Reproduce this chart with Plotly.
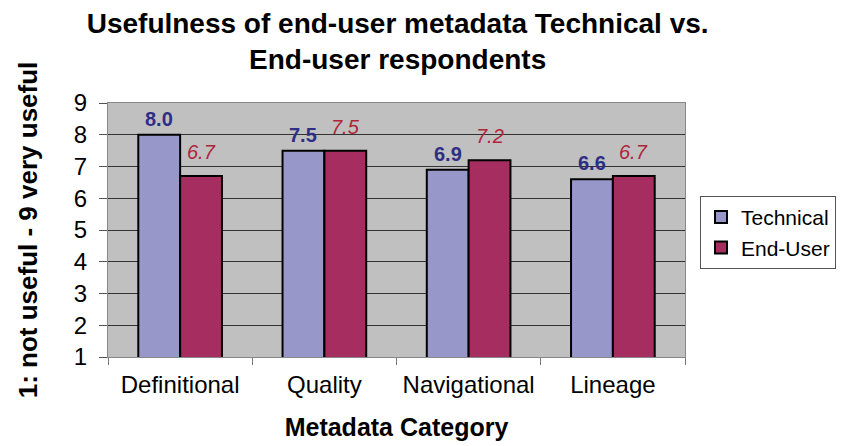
import plotly.graph_objects as go

categories = ["Definitional", "Quality", "Navigational", "Lineage"]
technical = [8.0, 7.5, 6.9, 6.6]
end_user = [6.7, 7.5, 7.2, 6.7]
y_ticks = [1, 2, 3, 4, 5, 6, 7, 8, 9]

tech_color = "#9797CA"
eu_color = "#A62D5F"
FONT = "Arial, Liberation Sans, Helvetica, sans-serif"

fig = go.Figure()
fig.add_trace(go.Bar(name="Technical", x=categories, y=technical,
                     marker=dict(color=tech_color, line=dict(color="black", width=2))))
fig.add_trace(go.Bar(name="End-User", x=categories, y=end_user,
                     marker=dict(color=eu_color, line=dict(color="black", width=2))))

for c, v in zip(categories, technical):
    fig.add_annotation(x=c, y=v, xref="x", yref="y", text=f"<b>{v:.1f}</b>", showarrow=False,
                       xshift=-21, yshift=16, font=dict(family=FONT, size=20, color="#2E2E86"))
for c, v in zip(categories, end_user):
    fig.add_annotation(x=c, y=v, xref="x", yref="y", text=f"<i>{v:.1f}</i>", showarrow=False,
                       xshift=21, yshift=24, font=dict(family=FONT, size=20, color="#B0243A"))

fig.update_layout(
    width=859, height=446,
    margin=dict(l=100, r=182, t=95, b=97, autoexpand=False),
    paper_bgcolor="white", plot_bgcolor="#C0C0C0",
    barmode="group", bargap=0.42, bargroupgap=0,
    font=dict(family=FONT, size=22, color="black"),
    title=dict(text="<b>Usefulness of end-user metadata Technical vs.<br>End-user respondents</b>",
               x=0.502, xanchor="center", xref="paper", yref="container", y=0.944, yanchor="middle",
               automargin=False, font=dict(size=28, color="black")),
    legend=dict(x=1.026, xanchor="left", y=0.634, yanchor="top",
                bordercolor="#555555", borderwidth=1, bgcolor="white",
                font=dict(size=21), tracegroupgap=0),
    xaxis=dict(title=dict(text="<b>Metadata Category</b>", font=dict(size=25), standoff=21),
               automargin=False,
               ticks="outside", tickson="boundaries", ticklen=7, tickcolor="#777777",
               ticklabelstandoff=6,
               showline=True, linecolor="#888888", linewidth=1, mirror=True,
               tickfont=dict(size=24)),
    yaxis=dict(title=dict(text="<b>1: not useful - 9 very useful</b>", font=dict(size=26), standoff=28),
               automargin=False,
               range=[1, 9], tickvals=y_ticks, ticks="outside", ticklen=8, tickcolor="#555555",
               ticklabelstandoff=7,
               showgrid=True, gridcolor="#333333", gridwidth=1,
               showline=True, linecolor="#888888", linewidth=1, mirror=True,
               tickfont=dict(size=24)),
)

fig.write_html("out.html")
